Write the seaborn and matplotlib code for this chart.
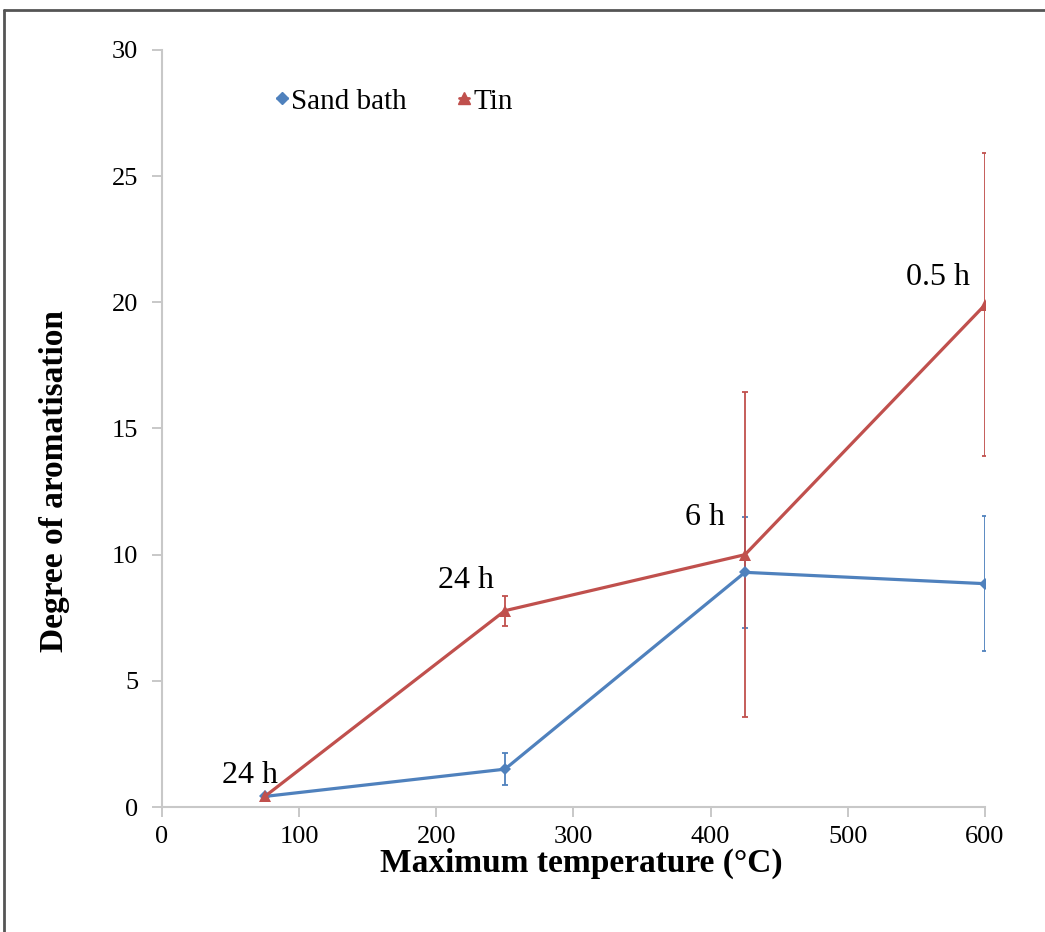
import numpy as np
import pandas as pd
import seaborn as sns
import matplotlib.pyplot as plt
from matplotlib.lines import Line2D

# ---- data ----
temperature = [75, 250, 425, 600]
sand_bath = [0.42, 1.5, 9.3, 8.85]
sand_bath_err = [0.0, 0.63, 2.2, 2.67]
tin = [0.42, 7.78, 10.0, 19.9]
tin_err = [0.0, 0.6, 6.45, 6.0]
durations = ["24 h", "24 h", "6 h", "0.5 h"]
series_names = ["Sand bath", "Tin"]
yticks = [0, 5, 10, 15, 20, 25, 30]
xticks = [0, 100, 200, 300, 400, 500, 600]

blue = "#4F81BD"
red = "#C0504D"

df = pd.DataFrame({
    "temperature": temperature * 2,
    "value": sand_bath + tin,
    "series": [series_names[0]] * 4 + [series_names[1]] * 4,
})

sns.set_theme(style="white")
plt.rcParams["font.family"] = ["Liberation Serif", "DejaVu Serif"]
plt.rcParams["text.color"] = "black"

fig = plt.figure(figsize=(10.45, 9.32), dpi=100)
ax = fig.add_axes([0.155, 0.1341, 0.7876, 0.8123])

palette = {series_names[0]: blue, series_names[1]: red}
markers = {series_names[0]: "D", series_names[1]: "^"}
sns.lineplot(data=df, x="temperature", y="value", hue="series", style="series",
             palette=palette, markers=markers, dashes=False, linewidth=2.3,
             markersize=8.5, markeredgewidth=0, ax=ax, legend=False, sort=False)
for ln in ax.lines:
    if ln.get_marker() == "D":
        ln.set_markersize(6.5)

ax.errorbar(temperature, sand_bath, yerr=sand_bath_err, fmt="none", ecolor=blue,
            elinewidth=1.3, capsize=2.5, capthick=1.3, zorder=1)
ax.errorbar(temperature, tin, yerr=tin_err, fmt="none", ecolor=red,
            elinewidth=1.3, capsize=2.5, capthick=1.3, zorder=1)

# annotations of durations next to Tin points
offsets = [(-15, 21), (-39, 30), (-40, 37), (-47, 27)]
for xv, yv, lab, off in zip(temperature, tin, durations, offsets):
    ax.annotate(lab, xy=(xv, yv), xytext=off, textcoords="offset pixels",
                ha="center", va="center", fontsize=23, color="black")

ax.set_xlim(0, 600)
ax.set_ylim(0, 30)
ax.set_xticks(xticks)
ax.set_yticks(yticks)
ax.tick_params(axis="both", labelsize=19, colors="#BFBFBF", labelcolor="black",
               length=7, width=1.2, direction="out", bottom=True, left=True)
ax.tick_params(axis="x", pad=7)
ax.tick_params(axis="y", pad=10)
for s in ["top", "right"]:
    ax.spines[s].set_visible(False)
for s in ["left", "bottom"]:
    ax.spines[s].set_color("#C8C8C8")
    ax.spines[s].set_linewidth(1.5)
ax.grid(False)

ax.set_xlabel("Maximum temperature (°C)", fontsize=24, fontweight="bold", color="black")
ax.set_ylabel("Degree of aromatisation", fontsize=24, fontweight="bold", color="black")
ax.xaxis.set_label_coords(0.51, -0.054)
ax.yaxis.set_label_coords(-0.112, 0.43)

handles = [Line2D([0], [0], color=blue, marker="D", markersize=6.5, linewidth=2),
           Line2D([0], [0], color=red, marker="^", markersize=8.5, linewidth=2)]
ax.legend(handles, series_names, loc="center", bbox_to_anchor=(0.283, 0.932),
          ncol=2, frameon=False, fontsize=21, handlelength=0.35,
          handletextpad=0.15, columnspacing=1.8, labelcolor="black")

# figure border (top and left visible)
fig.add_artist(Line2D([4 / 1045, 1.0], [1 - 10 / 932, 1 - 10 / 932],
                      transform=fig.transFigure, color="#555555", linewidth=2))
fig.add_artist(Line2D([4 / 1045, 4 / 1045], [0.0, 1 - 10 / 932],
                      transform=fig.transFigure, color="#555555", linewidth=2))

fig.savefig("out.png", dpi=100)
